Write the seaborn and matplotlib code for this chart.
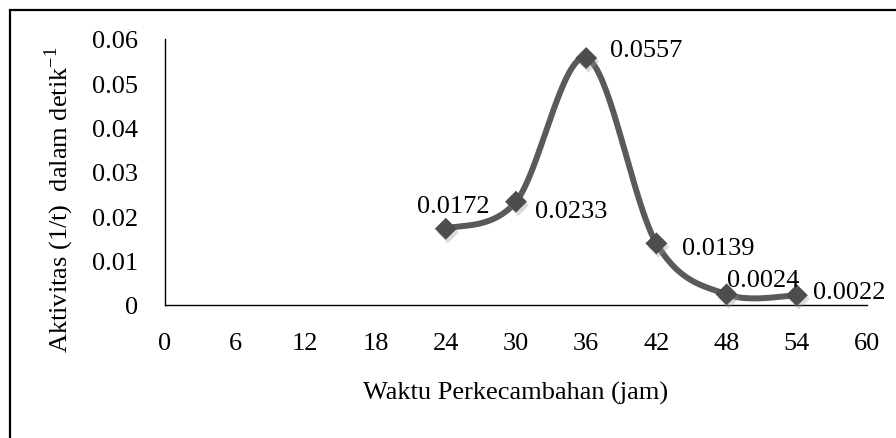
import numpy as np
import pandas as pd
import matplotlib
matplotlib.use('Agg')
import matplotlib.pyplot as plt
import matplotlib.patheffects as pe
import seaborn as sns
from matplotlib.patches import Rectangle

# data
waktu = [24, 30, 36, 42, 48, 54]
aktivitas = [0.0172, 0.0233, 0.0557, 0.0139, 0.0024, 0.0022]
label_nilai = ['0.0172', '0.0233', '0.0557', '0.0139', '0.0024', '0.0022']
x_ticks = [0, 6, 12, 18, 24, 30, 36, 42, 48, 54, 60]
y_ticks = [0, 0.01, 0.02, 0.03, 0.04, 0.05, 0.06]
y_tick_labels = ['0', '0.01', '0.02', '0.03', '0.04', '0.05', '0.06']

# posisi label (offset pixel dari titik)
label_offset = [(8, 17, 'center'), (19, -15, 'left'), (24, 2, 'left'),
                (26, -11, 'left'), (0, 8, 'left'), (16, -3, 'left')]


def excel_smooth(xs, ys, n=40):
    # kurva halus seperti "smoothed line" di Excel (bezier catmull-rom)
    p = np.column_stack([xs, ys]).astype(float)
    pts = np.vstack([p[0], p, p[-1]])
    out = []
    t = np.linspace(0, 1, n)[:, None]
    for i in range(len(p) - 1):
        p0, p1, p2, p3 = pts[i], pts[i + 1], pts[i + 2], pts[i + 3]
        c1 = p1 + (p2 - p0) / 6
        c2 = p2 - (p3 - p1) / 6
        seg = (1 - t) ** 3 * p1 + 3 * (1 - t) ** 2 * t * c1 + 3 * (1 - t) * t ** 2 * c2 + t ** 3 * p2
        out.append(seg if i == 0 else seg[1:])
    return np.vstack(out)


df = pd.DataFrame({'Waktu': waktu, 'Aktivitas': aktivitas})
curve = excel_smooth(df['Waktu'], df['Aktivitas'])
df_curve = pd.DataFrame(curve, columns=['Waktu', 'Aktivitas'])

sns.set_theme(style='white')
plt.rcParams['font.family'] = ['Liberation Serif', 'DejaVu Serif']
plt.rcParams['mathtext.fontset'] = 'custom'
plt.rcParams['mathtext.rm'] = 'Liberation Serif'
fs = 19

fig = plt.figure(figsize=(8.96, 4.39), dpi=100)
ax = fig.add_axes([165 / 896, 1 - 306 / 439, 702 / 896, 266 / 439])

sns.lineplot(data=df_curve, x='Waktu', y='Aktivitas', sort=False, estimator=None,
             color='#5a5a5a', linewidth=4.3, ax=ax, zorder=3)
pts = sns.scatterplot(data=df, x='Waktu', y='Aktivitas', marker='D', s=125, color='#4d4d4d',
                      linewidth=0, ax=ax, zorder=4, clip_on=False)
ax.collections[-1].set_path_effects([pe.SimplePatchShadow(offset=(1.5, -2.5), shadow_rgbFace='#999999', alpha=0.35),
                                     pe.Normal()])

for xv, yv, teks, (dx, dy, ha) in zip(waktu, aktivitas, label_nilai, label_offset):
    ax.annotate(teks, (xv, yv), xytext=(dx, dy), textcoords='offset pixels',
                ha=ha, va='baseline', fontsize=fs, color='black', zorder=5)

ax.set_xlim(0, 60)
ax.set_ylim(0, 0.06)
ax.set_xticks(x_ticks)
ax.set_xticklabels([str(v) for v in x_ticks])
ax.set_yticks(y_ticks)
ax.set_yticklabels(y_tick_labels)
ax.tick_params(axis='both', length=0, labelsize=fs, colors='black', pad=19.4)

sns.despine(ax=ax)
for s in ['left', 'bottom']:
    ax.spines[s].set_color('black')
    ax.spines[s].set_linewidth(1.0)

ax.set_xlabel('Waktu Perkecambahan (jam)', fontsize=fs, color='black')
ax.set_ylabel('Aktivitas (1/t)  dalam detik$^{\\mathrm{-1}}$', fontsize=fs, color='black')
ax.xaxis.set_label_coords(0.5, -0.286)
ax.yaxis.set_label_coords(-0.127, 0.398)

# bingkai
fig.patches.append(Rectangle((10 / 896, -0.2), 1.3, 1.2 - 11 / 439, transform=fig.transFigure,
                             fill=False, edgecolor='black', linewidth=1.6))

fig.savefig('out.png', dpi=100)
